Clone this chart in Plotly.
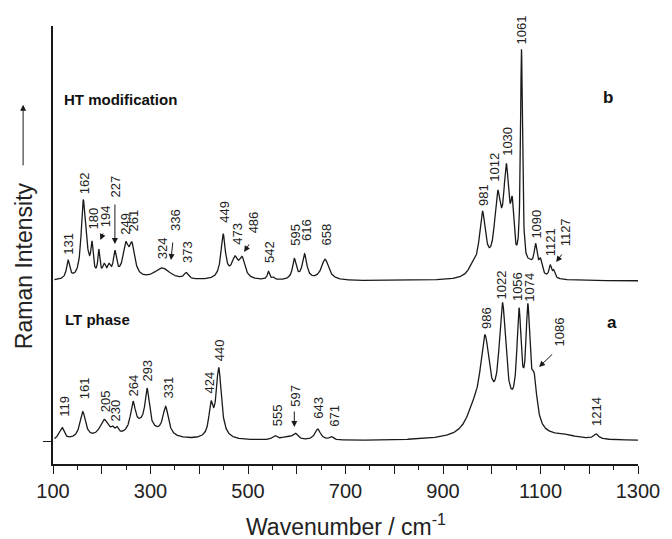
import numpy as np
import plotly.graph_objects as go

# ---------------- data ----------------
# LT phase: peak centre (cm-1), height (a.u.), half width (cm-1)
lt_pos = [112, 119, 161, 205, 222, 231, 264, 285, 293, 331, 424, 440, 555, 580, 597, 643, 671,
          962, 986, 1022, 1040, 1056, 1074, 1087, 1150, 1214]
lt_hgt = [4, 11, 27, 18, 5, 6, 28, 14, 37, 29, 29, 70, 4, 3, 6, 11, 3,
          18, 88, 114, 12, 103, 107, 42, 3, 5]
lt_wid = [3, 5, 7, 11, 4, 4, 6, 30, 5, 7, 5, 6.5, 6, 12, 6, 7, 5,
          18, 12, 8.5, 40, 5.5, 5, 7, 30, 6]

# HT modification
ht_pos = [131, 162, 170, 180, 194, 205, 215, 227, 249, 262, 324, 373, 449, 473, 488, 542, 552,
          595, 616, 658, 960, 981, 1012, 1030, 1042, 1061, 1078, 1090, 1100, 1120, 1127]
ht_hgt = [18, 76, 12, 30, 25, 11, 10, 24, 30, 30, 12, 6, 44, 19, 19, 8, 2,
          20, 25, 21, 8, 61, 72, 97, 49, 219, 10, 27, 14, 12, 7]
ht_wid = [4, 5, 5, 3, 2.5, 4, 4, 4, 7, 7, 20, 5, 5.5, 8, 7, 3, 3,
          4.5, 5.5, 9, 10, 8, 8, 7, 4, 2.5, 10, 4, 4, 3, 3]
ht_offset = 160

# peak labels: (text, label x, label bottom y)
lt_labels = [("119", 123, 23), ("161", 164, 41), ("205", 207, 28), ("230", 228, 19),
             ("264", 265, 44), ("293", 292, 58), ("331", 335, 41), ("424", 419, 46),
             ("440", 441, 79), ("555", 560, 14), ("597", 596, 33), ("643", 643, 21),
             ("671", 676, 13), ("986", 988, 111), ("1022", 1021, 141), ("1056", 1053, 139),
             ("1074", 1077, 138), ("1086", 1138, 93), ("1214", 1215, 14)]
ht_labels = [("131", 130, 185), ("162", 164, 246), ("180", 183, 211), ("194", 207, 213),
             ("227", 228, 243), ("249", 247, 205), ("261", 265, 209), ("324", 324, 181),
             ("336", 350, 209), ("373", 375, 177), ("449", 450, 217), ("473", 477, 195),
             ("486", 511, 207), ("542", 543, 177), ("595", 596, 194), ("616", 619, 199),
             ("658", 659, 194), ("981", 982, 234), ("1012", 1005, 258), ("1030", 1032, 284),
             ("1061", 1062, 396), ("1090", 1091, 201), ("1121", 1120, 184), ("1127", 1151, 194)]
# arrows: (tail x, tail y, head x, head y)
arrows = [(204, 209, 197, 201), (227, 238, 227, 197), (346, 200, 342, 181),
          (504, 198, 492, 189), (1146, 188, 1132, 179), (595, 31, 595, 14),
          (1127, 88, 1097, 74)]

x_ticks = list(range(100, 1301, 100))
x_ticktext = [str(v) if (v - 100) % 200 == 0 else "" for v in x_ticks]

# ---------------- build spectra ----------------
x = np.arange(103, 1300.01, 0.5)


def spectrum(pos, hgt, wid):
    y = np.zeros_like(x)
    for p, h, w in zip(pos, hgt, wid):
        y += h * w ** 2 / ((x - p) ** 2 + w ** 2)
    return y


y_lt = spectrum(lt_pos, lt_hgt, lt_wid)
y_ht = spectrum(ht_pos, ht_hgt, ht_wid) + ht_offset

INK = "#1a1a1a"
FONT = "Liberation Sans, Arial, sans-serif"

fig = go.Figure()
fig.add_trace(go.Scatter(x=x, y=y_lt, mode="lines", line=dict(color=INK, width=1.3),
                         showlegend=False, hoverinfo="skip"))
fig.add_trace(go.Scatter(x=x, y=y_ht, mode="lines", line=dict(color=INK, width=1.3),
                         showlegend=False, hoverinfo="skip"))

ann = []
for t, lx, ly in lt_labels + ht_labels:
    ann.append(dict(x=lx, y=ly, text=t, textangle=-90, showarrow=False, xanchor="center",
                    yanchor="bottom", font=dict(size=13, color="#222", family=FONT),
                    borderpad=0))
for tx, ty, hx, hy in arrows:
    ann.append(dict(x=hx, y=hy, ax=tx, ay=ty, axref="x", ayref="y", text="",
                    showarrow=True, arrowhead=2, arrowsize=1.2, arrowwidth=1,
                    arrowcolor=INK, standoff=0, startstandoff=0))

# texts
ann += [
    dict(x=0.0147, y=0.833, xref="paper", yref="paper", text="<b>HT modification</b>",
         showarrow=False, xanchor="left", yanchor="middle",
         font=dict(size=15, color="#111", family=FONT)),
    dict(x=0.0164, y=0.329, xref="paper", yref="paper", text="<b>LT phase</b>",
         showarrow=False, xanchor="left", yanchor="middle",
         font=dict(size=15, color="#111", family=FONT)),
    dict(x=0.949, y=0.836, xref="paper", yref="paper", text="<b>b</b>",
         showarrow=False, xanchor="center", yanchor="middle",
         font=dict(size=17, color="#111", family=FONT)),
    dict(x=0.956, y=0.324, xref="paper", yref="paper", text="<b>a</b>",
         showarrow=False, xanchor="center", yanchor="middle",
         font=dict(size=17, color="#111", family=FONT)),
    dict(x=-0.0494, y=0.452, xref="paper", yref="paper", text="Raman Intensity",
         textangle=-90, showarrow=False, xanchor="center", yanchor="middle",
         font=dict(size=23, color="#222", family=FONT)),
    dict(x=-0.0511, y=0.820, xref="paper", yref="paper", text="", showarrow=True,
         ax=0, ay=62, arrowhead=2, arrowsize=1.2, arrowwidth=1, arrowcolor=INK,
         standoff=0),
    dict(x=0.5006, y=-0.14, xref="paper", yref="paper",
         text="Wavenumber / cm<sup>-1</sup>", showarrow=False, xanchor="center",
         yanchor="middle", font=dict(size=23, color="#222", family=FONT)),
]

fig.update_layout(
    width=672, height=539,
    margin=dict(l=53, r=26, t=26, b=75),
    paper_bgcolor="white", plot_bgcolor="white",
    annotations=ann,
    xaxis=dict(range=[100, 1300], showline=True, linecolor=INK, linewidth=1.5,
               showgrid=False, zeroline=False, ticks="outside", ticklen=8, tickwidth=1.3,
               tickcolor=INK, tickmode="array", tickvals=x_ticks, ticktext=x_ticktext,
               tickfont=dict(size=20, color="#222", family=FONT),
               minor=dict(tickmode="linear", tick0=100, dtick=50, ticks="outside",
                          ticklen=4, tickwidth=1.3, tickcolor=INK)),
    yaxis=dict(range=[-23, 415], showline=True, linecolor=INK, linewidth=1.5,
               showgrid=False, zeroline=False, ticks="outside", ticklen=8, tickwidth=1.3,
               tickcolor=INK, tickmode="array", tickvals=[0], ticktext=[""]),
)

fig.write_html("out.html")
